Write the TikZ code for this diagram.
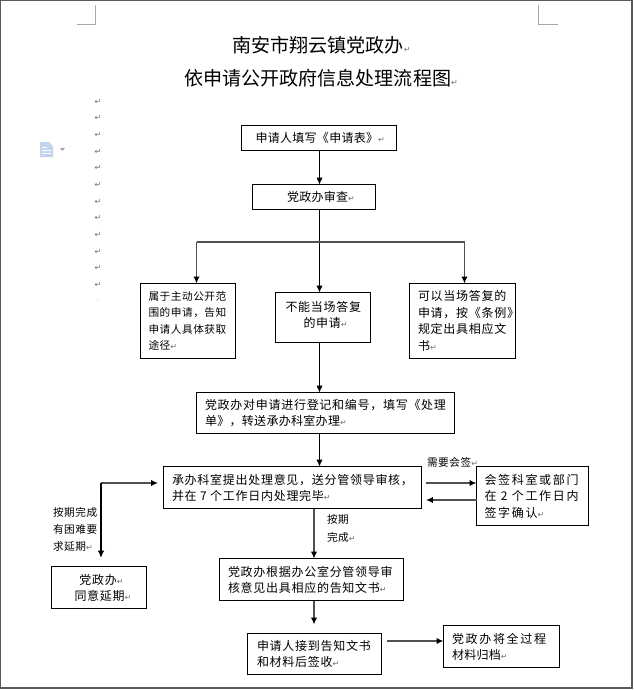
\documentclass[tikz,border=0pt]{standalone}
\usepackage{fontspec}
\usetikzlibrary{arrows.meta}
\newfontfamily\fzero{Noto Sans CJK SC}
\newfontfamily\fA[LetterSpace=2.5]{Noto Sans CJK SC}
\newfontfamily\fB[LetterSpace=6]{Noto Sans CJK SC}
\newfontfamily\fD[LetterSpace=14]{Noto Sans CJK SC}
\newfontfamily\fS[LetterSpace=5]{Noto Sans CJK SC}
\newfontfamily\fmark{DejaVu Sans}
\definecolor{markgray}{HTML}{707070}
\definecolor{cropgray}{HTML}{A8A8A8}
\definecolor{framegray}{HTML}{5A5A5A}
\definecolor{lnkgray}{HTML}{505050}
\definecolor{iconblue}{HTML}{C3D4EE}
\newcommand\szN{\fontsize{9}{12}\selectfont}
\newcommand\szS{\fontsize{8}{12.4}\selectfont}
\newcommand\retm{{\fmark\fontsize{6}{6}\selectfont\textcolor{markgray}{↵}}}
\tikzset{
  x=0.75pt,y=-0.75pt,
  boxn/.style={draw=black,line width=0.75pt,inner sep=0pt,outer sep=0pt,fill=white},
  lblnode/.style={inner sep=0pt,outer sep=0pt,align=left,anchor=west},
  titlenode/.style={inner sep=0pt,font=\fzero\fontsize{14.3}{14.3}\selectfont},
  marknode/.style={inner sep=0pt,text=markgray},
  blk/.style={draw=black,line width=0.75pt,-{Latex[length=5.2pt,width=4.8pt]}},
  grl/.style={draw=lnkgray,line width=1.1pt,-{Latex[length=5.2pt,width=4.8pt,black]}},
  thk/.style={draw=black,line width=1.5pt,-{Latex[length=5.6pt,width=5pt]}},
  plainl/.style={draw=lnkgray,line width=1.1pt},
  crop/.style={draw=cropgray,line width=0.75pt},
}
\newcommand\bx[7]{%
  \pgfmathsetmacro\bw{(#4-#2)*0.75}%
  \pgfmathsetmacro\bh{(#5-#3)*0.75}%
  \pgfmathsetmacro\bp{(#6)*0.75}%
  \pgfmathsetmacro\bt{(#4-#2-#6)*0.75}%
  \node[boxn,minimum width=\bw pt,minimum height=\bh pt] (#1) at ({(#2+#4)/2},{(#3+#5)/2})
    {\makebox[\bw pt][l]{\hspace*{\bp pt}\parbox{\bt pt}{\raggedright #7}}};%
}
\begin{document}
\begin{tikzpicture}
\useasboundingbox (0,0) rectangle (633,690);
\fill[white] (0,0) rectangle (633,690);
% page frame
\draw[framegray,line width=1.1pt] (0.7,0.7) -- (0.7,688) -- (631.8,688) -- (631.8,0.7) -- cycle;
% crop marks
\draw[crop] (95.5,5) -- (95.5,24.5) -- (77,24.5);
\draw[crop] (538.5,5) -- (538.5,24.5) -- (558,24.5);
% document icon
\fill[iconblue] (40,142) -- (49,142) -- (53,146) -- (53,157) -- (40,157) -- cycle;
\draw[white,line width=0.75pt] (42,147) -- (47,147) (42,150) -- (51,150) (42,153) -- (51,153);
\fill[cropgray] (60,148) -- (65,148) -- (62.5,151) -- cycle;
% paragraph marks column
\foreach \yy [count=\ii] in {102,118,135,152,168,185,202,218,235,252,268,285}
  \node[marknode] (mk\ii) at (98,\yy) {\retm};
\node[marknode] (mkdot) at (98,300) {\fzero\fontsize{5}{5}\selectfont .};
% titles
\node[titlenode,anchor=west] (t1) at (232,45) {南安市翔云镇党政办\retm};
\node[titlenode,anchor=west] (t2) at (184,78) {依申请公开政府信息处理流程图\retm};
% boxes
\bx{apply}{241.5}{125.5}{396.5}{150.5}{14}{\szN\fA 申请人填写《申请表》\retm}
\bx{review}{252.5}{184.5}{375.5}{209.5}{34.5}{\szN\fA 党政办审查\retm}
\bx{lft}{140.5}{283.5}{235.5}{358.5}{8}{\szS\fS 属于主动公开范\\围的申请，告知\\申请人具体获取\\途径\retm}
\bx{mid}{275.5}{292.5}{370.5}{342.5}{10}{\szN\fB 不能当场答复\\\hspace*{13.5pt}的申请\retm\rule[-4.5pt]{0pt}{0pt}}
\bx{rgt}{409.5}{283.5}{515.5}{358.5}{8.5}{\fontsize{9}{12.4}\selectfont\fB 可以当场答复的\\申请，按《条例》\\规定出具相应文\\书\retm}
\bx{reg}{196.5}{392.5}{454.5}{433.5}{8.5}{\szN\fB 党政办对申请进行登记和编号，填写《处理\\\fA 单》，转送承办科室办理\retm}
\bx{proc}{163.5}{466.5}{421.5}{508.5}{8.5}{\szN\fB 承办科室提出处理意见，送分管领导审核，\\并在 7 个工作日内处理完毕\retm}
\bx{sign}{476.5}{466.5}{588.5}{525.5}{8}{\fontsize{9}{12.4}\selectfont\fD 会签科室或部门\\在 2 个工作日内\\签字确认\retm}
\bx{delay}{51.5}{566.5}{146.5}{608.5}{23}{\szN\fB \hspace*{3.7pt}党政办\retm\\同意延期\retm}
\bx{res}{219.5}{558.5}{403.5}{600.5}{8.5}{\szN\fB 党政办根据办公室分管领导审\\核意见出具相应的告知文书\retm}
\bx{recv}{247.5}{633.5}{381.5}{674.5}{9.5}{\szN\fB 申请人接到告知文书\\和材料后签收\retm}
\bx{arch}{443.5}{625.5}{559.5}{667.5}{8.5}{\szN\fD 党政办将全过程\\\fA 材料归档\retm}
% labels
\node[lblnode,font=\fS\fontsize{8}{12}\selectfont] (lneed) at (427,462) {需要会签\retm};
\node[lblnode,font=\fS\fontsize{8}{13}\selectfont] (lontime) at (327,528.5) {按期\\完成\retm};
\node[lblnode,font=\fS\fontsize{8}{12.7}\selectfont] (lext) at (53,529) {按期完成\\有困难要\\求延期\retm};
% junctions and free ends
\coordinate (jmain) at (319.5,242);
\coordinate (jleft) at (196.5,242);
\coordinate (jright) at (464.5,242);
\coordinate (kcorner) at (101,483);
\coordinate (kright) at (158,483);
\coordinate (kdown) at (101,558);
\coordinate (sa) at (426,483);
\coordinate (sb) at (426,500);
\coordinate (procdown) at (314,508.5);
\coordinate (resin) at (314,558.5);
\coordinate (resout) at (314,600.5);
\coordinate (recvin) at (314,624.5);
\coordinate (ra) at (387,641);
% connectors
\draw[blk] (jmain |- apply.south) -- (jmain |- review.north);
\draw[blk] (jmain |- review.south) -- (jmain |- mid.north);
\draw[plainl] (jleft) -- (jright);
\draw[grl] (jleft) -- (jleft |- lft.north);
\draw[grl] (jright) -- (jright |- rgt.north);
\draw[blk] (jmain |- mid.south) -- (jmain |- reg.north);
\draw[blk] (jmain |- reg.south) -- (jmain |- proc.north);
\draw[grl] (procdown) -- (resin);
\draw[grl] (resout) -- (recvin);
\draw[grl] (kcorner) -- (kright);
\draw[thk] (kcorner) -- (kdown);
\draw[grl] (sa) -- (sa -| sign.west);
\draw[grl] (sb -| sign.west) -- (sb);
\draw[grl] (ra) -- (ra -| arch.west);
\end{tikzpicture}
\end{document}
